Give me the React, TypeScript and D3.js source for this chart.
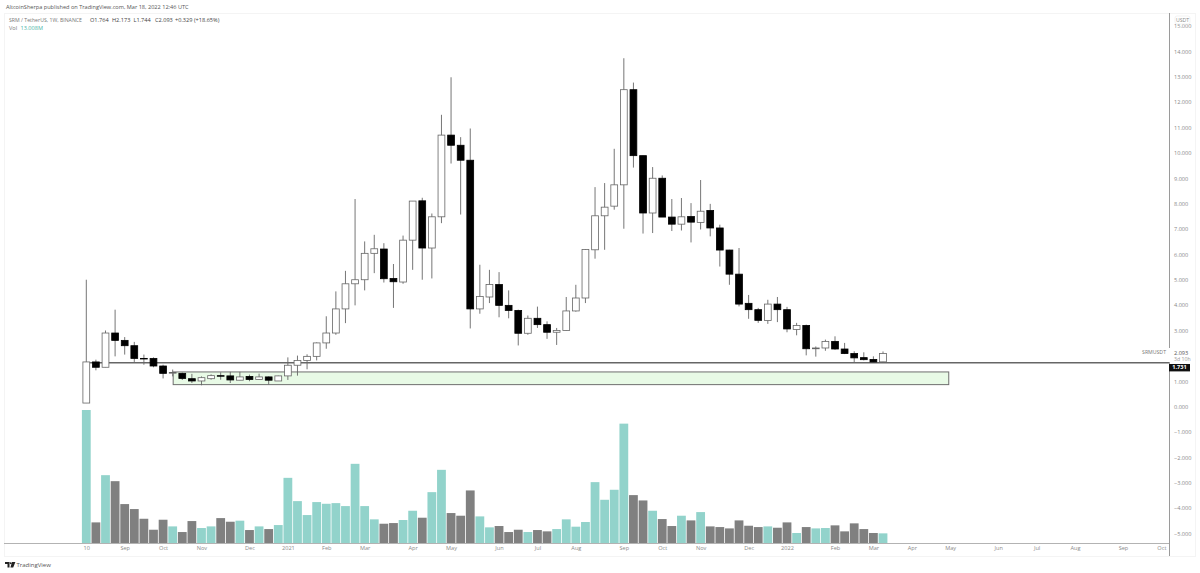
import React, { useEffect, useRef } from 'react';
import * as d3 from 'd3';

// weekly SRM/USDT
const opens = [
	0.14, 1.76, 1.55, 2.9, 2.61, 2.4, 1.9, 1.9, 1.6, 1.33, 1.31, 1.1, 1.01, 1.1, 1.22, 1.21, 1.04, 1.19, 1.07, 1.17, 1.01,
	1.21, 1.63, 1.82, 1.98, 2.51, 2.9, 3.85, 4.84, 5.0, 6.04, 6.21, 5.05, 4.91, 6.56, 8.11, 6.25, 7.48, 10.7, 10.3, 9.71,
	3.85, 4.32, 4.81, 3.99, 3.79, 2.89, 3.48, 3.23, 2.93, 3.0, 3.77, 4.28, 6.18, 7.52, 7.9, 8.74, 12.49, 9.89, 7.63, 9.0,
	7.47, 7.19, 7.49, 7.26, 7.73, 7.04, 6.17, 5.22, 4.07, 3.82, 3.39, 4.04, 3.82, 3.04, 3.2, 2.28, 2.31, 2.57, 2.27, 2.09,
	1.93, 1.86, 1.764,
];
const highs = [
	5.0, 1.85, 3.0, 3.82, 2.74, 2.55, 2.05, 1.94, 1.65, 1.46, 1.34, 1.29, 1.19, 1.27, 1.35, 1.37, 1.37, 1.26, 1.3, 1.19, 1.22,
	1.94, 2.01, 2.06, 2.53, 3.56, 4.54, 5.35, 8.18, 6.51, 6.77, 6.44, 5.62, 6.74, 8.1, 8.23, 7.61, 11.5, 12.98, 10.62, 10.96,
	5.59, 5.39, 5.3, 4.58, 3.82, 3.59, 3.94, 3.36, 3.1, 4.32, 4.8, 6.21, 8.65, 8.81, 10.16, 13.73, 12.77, 9.89, 9.44, 9.11,
	8.18, 8.22, 8.02, 8.93, 7.99, 7.17, 6.18, 6.25, 4.4, 3.89, 4.21, 4.32, 3.93, 3.3, 3.23, 2.37, 2.64, 2.77, 2.51, 2.18,
	2.14, 1.98, 2.173,
];
const lows = [
	0.14, 1.43, 1.55, 1.98, 2.05, 1.76, 1.65, 1.55, 1.11, 1.19, 1.05, 0.93, 0.84, 1.06, 1.06, 0.93, 1.04, 1.0, 1.06, 0.87, 1.01,
	1.05, 1.22, 1.47, 1.82, 2.28, 2.83, 3.29, 3.99, 4.58, 5.26, 4.89, 3.89, 4.84, 5.39, 5.0, 5.05, 7.23, 9.58, 7.57, 3.08,
	3.66, 4.08, 3.52, 3.48, 2.41, 2.83, 3.1, 2.67, 2.43, 2.99, 3.74, 4.08, 5.83, 6.18, 7.76, 7.01, 9.42, 6.82, 6.84, 7.47,
	6.92, 6.94, 6.47, 6.98, 6.71, 5.52, 4.8, 3.95, 3.46, 3.3, 3.26, 3.33, 2.93, 2.81, 2.02, 1.97, 2.2, 2.24, 2.07, 1.72,
	1.82, 1.76, 1.744,
];
const closes = [
	1.76, 1.55, 2.9, 2.61, 2.4, 1.9, 1.89, 1.6, 1.31, 1.34, 1.11, 1.01, 1.14, 1.22, 1.21, 1.05, 1.17, 1.07, 1.17, 1.04, 1.21,
	1.63, 1.82, 1.98, 2.51, 2.9, 3.85, 4.84, 5.0, 6.04, 6.22, 5.04, 4.92, 6.56, 8.1, 6.25, 7.48, 10.7, 10.3, 9.71, 3.85,
	4.34, 4.81, 3.99, 3.79, 2.89, 3.48, 3.23, 2.93, 3.0, 3.77, 4.28, 6.19, 7.52, 7.86, 8.74, 12.49, 9.89, 7.63, 9.0, 7.47,
	7.19, 7.48, 7.27, 7.7, 7.04, 6.17, 5.22, 4.04, 3.82, 3.4, 4.04, 3.82, 3.06, 3.2, 2.28, 2.31, 2.57, 2.27, 2.09, 1.92,
	1.85, 1.76, 2.093,
];
// volume in millions
const volumes = [
	179.4, 27.8, 91.5, 83.4, 52.5, 45.8, 32.7, 17.9, 31.4, 22.4, 14.8, 29.6, 20.2, 22.4, 33.6, 28.7, 30.1, 17.5, 22.4, 18.8, 24.2,
	87.9, 56.5, 37.7, 55.2, 52.9, 53.8, 49.8, 106.8, 49.8, 31.9, 26.0, 26.9, 31.0, 43.5, 34.1, 68.6, 98.7, 40.4, 36.8, 70.9,
	35.9, 21.1, 22.9, 14.8, 17.9, 14.8, 17.5, 15.7, 18.8, 31.9, 22.0, 28.3, 82.1, 58.3, 71.8, 161.0, 64.6, 57.4, 43.5, 32.3,
	22.9, 36.8, 30.5, 41.7, 22.4, 21.5, 19.7, 30.5, 23.3, 21.5, 22.4, 20.6, 27.8, 13.5, 21.5, 19.7, 20.2, 23.8, 15.7, 26.5,
	18.8, 13.5, 13.008,
];

const monthLabels = ['10', 'Sep', 'Oct', 'Nov', 'Dec', '2021', 'Feb', 'Mar', 'Apr', 'May', 'Jun', 'Jul', 'Aug', 'Sep', 'Oct', 'Nov', 'Dec', '2022', 'Feb', 'Mar', 'Apr', 'May', 'Jun', 'Jul', 'Aug', 'Sep', 'Oct'];
const monthWeeks = [0, 4, 8, 12, 17, 21, 25, 29, 34, 38, 43, 47, 51, 56, 60, 64, 69, 73, 78, 82, 86, 90, 95, 99, 103, 108, 112];
const priceTicks = [15, 14, 13, 12, 11, 10, 9, 8, 7, 6, 5, 4, 3, 1, 0, -1, -2, -3, -4, -5];

const lastClose = 2.093;
const supportLevel = 1.731;
const zoneTop = 1.366;
const zoneBottom = 0.866;
const zoneStartWeek = 9.05;
const zoneEndWeek = 89.85;

const FONT = '"Open Sans", "DejaVu Sans", sans-serif';

const App: React.FC = () => {
	const svgRef = useRef<SVGSVGElement | null>(null);

	useEffect(() => {
		if (!svgRef.current) return;

		const width = 1200;
		const height = 573;
		const axisX = 1169;
		const baseY = 543;

		const x = d3.scaleLinear().domain([0, 83]).range([86.3, 883]);
		const y = d3.scaleLinear().domain([0, 15]).range([406.6, 26]);
		const v = d3.scaleLinear().domain([0, 179.4]).range([baseY, 410]);

		const svg = d3.select(svgRef.current);
		svg.selectAll('*').remove();
		svg.attr('width', width).attr('height', height).attr('viewBox', [0, 0, width, height]);

		svg.append('rect').attr('width', width).attr('height', height).attr('fill', '#fff');

		// pane frame
		svg
			.append('rect')
			.attr('x', 4.5)
			.attr('y', 13.5)
			.attr('width', 1191)
			.attr('height', 543)
			.attr('fill', 'none')
			.attr('stroke', '#f4f4f4');

		const weeks = d3.range(opens.length);

		// volume
		svg
			.append('g')
			.selectAll('rect')
			.data(weeks)
			.join('rect')
			.attr('x', (i) => x(i) - 4.4)
			.attr('y', (i) => v(volumes[i]))
			.attr('width', 8.8)
			.attr('height', (i) => baseY - v(volumes[i]))
			.attr('fill', (i) => (closes[i] >= opens[i] ? '#92d3cb' : '#808080'));

		// demand zone
		svg
			.append('rect')
			.attr('x', x(zoneStartWeek))
			.attr('y', y(zoneTop))
			.attr('width', x(zoneEndWeek) - x(zoneStartWeek))
			.attr('height', y(zoneBottom) - y(zoneTop))
			.attr('fill', '#e8fae6')
			.attr('stroke', '#6e6e6e')
			.attr('stroke-width', 1);

		// support line
		svg
			.append('line')
			.attr('x1', x(0.4))
			.attr('x2', axisX)
			.attr('y1', y(supportLevel))
			.attr('y2', y(supportLevel))
			.attr('stroke', '#666')
			.attr('stroke-width', 1.6);

		// candles
		const candles = svg.append('g').selectAll('g').data(weeks).join('g');
		candles
			.append('line')
			.attr('x1', (i) => x(i))
			.attr('x2', (i) => x(i))
			.attr('y1', (i) => y(highs[i]))
			.attr('y2', (i) => y(lows[i]))
			.attr('stroke', '#666')
			.attr('stroke-width', 0.9);
		candles
			.append('rect')
			.attr('x', (i) => x(i) - 3.4)
			.attr('y', (i) => y(Math.max(opens[i], closes[i])))
			.attr('width', 6.8)
			.attr('height', (i) => Math.max(0.6, Math.abs(y(opens[i]) - y(closes[i]))))
			.attr('fill', (i) => (closes[i] >= opens[i] ? '#fff' : '#000'))
			.attr('stroke', (i) => (closes[i] >= opens[i] ? '#666' : '#000'))
			.attr('stroke-width', 0.8);

		// time axis
		const timeAxis = svg
			.append('g')
			.attr('transform', `translate(0,${baseY})`)
			.call(
				d3
					.axisBottom(x)
					.tickValues(monthWeeks)
					.tickSize(0)
					.tickPadding(3)
					.tickFormat((_, i) => monthLabels[i]),
			);
		timeAxis.select('.domain').remove();
		timeAxis.selectAll('text').attr('fill', '#8a8a8a').attr('font-size', 5.6).attr('font-family', FONT);
		svg
			.append('line')
			.attr('x1', 4)
			.attr('x2', axisX)
			.attr('y1', baseY + 0.5)
			.attr('y2', baseY + 0.5)
			.attr('stroke', '#aaa')
			.attr('stroke-width', 0.9);

		// price axis
		const priceAxis = svg
			.append('g')
			.attr('transform', `translate(${axisX},0)`)
			.call(
				d3
					.axisRight(y)
					.tickValues(priceTicks)
					.tickSize(0)
					.tickPadding(5)
					.tickFormat((d) => d3.format('.3f')(d as number).replace('-', '\u2212')),
			);
		priceAxis.select('.domain').remove();
		priceAxis.selectAll('text').attr('fill', '#8a8a8a').attr('font-size', 5.6).attr('font-family', FONT);

		svg
			.append('path')
			.attr('d', `M${axisX + 0.5},13V348M${axisX + 0.5},362V556`)
			.attr('stroke', '#8f8f8f')
			.attr('stroke-width', 0.9)
			.attr('fill', 'none');

		// USDT tag
		svg
			.append('rect')
			.attr('x', 1175)
			.attr('y', 16)
			.attr('width', 15)
			.attr('height', 8)
			.attr('rx', 2)
			.attr('fill', '#fff')
			.attr('stroke', '#eee')
			.attr('stroke-width', 0.7);

		const label = (tx: number, ty: number, t: string, fill: string, size = 5.6, anchor = 'start', weight = 'normal') =>
			svg
				.append('text')
				.attr('x', tx)
				.attr('y', ty)
				.attr('fill', fill)
				.attr('font-size', size)
				.attr('font-family', FONT)
				.attr('font-weight', weight)
				.attr('text-anchor', anchor)
				.attr('dominant-baseline', 'middle')
				.text(t);

		label(1182.5, 20.2, 'USDT', '#8a8a8a', 5.2, 'middle');
		label(1166, 353, 'SRMUSDT', '#777', 5.2, 'end');
		label(1174, 353, d3.format('.3f')(lastClose), '#555', 5.6);
		label(1174, 359.5, '3d 10h', '#999', 5.2);

		svg.append('rect').attr('x', 1169).attr('y', 364).attr('width', 21).attr('height', 7.4).attr('fill', '#111');
		label(1179.5, 367.9, d3.format('.3f')(supportLevel), '#fff', 5.6, 'middle', 'bold');

		// header
		label(6, 7.3, 'AltcoinSherpa published on TradingView.com, Mar 18, 2022 12:46 UTC', '#555', 5.6);
		label(9, 20.3, 'SRM / TetherUS, 1W, BINANCE', '#777', 5.2);
		label(90, 20.3, 'O1.764', '#444', 5.6);
		label(112, 20.3, 'H2.173', '#444', 5.6);
		label(133.5, 20.3, 'L1.744', '#444', 5.6);
		label(155, 20.3, 'C2.093', '#444', 5.6);
		label(175, 20.3, '+0.329 (+18.65%)', '#444', 5.6);
		label(9, 28.7, 'Vol', '#777', 5.6);
		label(20.5, 28.7, '13.008M', '#4db6a8', 5.6);

		// TradingView logo
		svg
			.append('path')
			.attr('d', 'M5,562H9.5V567.5H7.5V564H5ZM10.6,562.2a0.9,0.9 0 1 0 0.1,0ZM12,562H15.4L13.2,567.5H10.4Z')
			.attr('fill', '#222');
		label(16.5, 565, 'TradingView', '#555', 6);
	}, []);

	return <svg ref={svgRef} style={{ position: 'absolute', left: 0, top: 0, display: 'block' }}></svg>;
};

export default App;
